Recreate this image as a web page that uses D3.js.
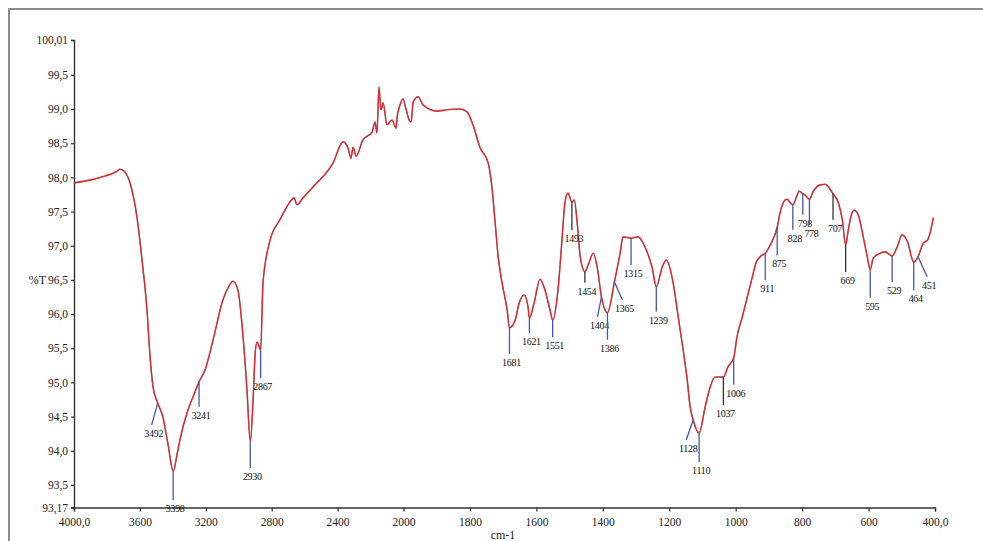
<!DOCTYPE html>
<html><head><meta charset="utf-8">
<script src="https://cdn.jsdelivr.net/npm/d3@7"></script>
<style>body{margin:0;background:#fff}svg{display:block}</style>
</head><body><svg id="c" width="983" height="541"></svg>
<script>
// ---- data ----
const wavenumber = [4000,3903,3812,3763,3739,3721,3696,3660,3618,3587,3557,3539,3520,3492,3460,3429,3398,3375,3357,3308,3272,3241,3205,3156,3096,3059,3035,3005,2974,2950,2930,2913,2901,2889,2877,2867,2853,2810,2750,2689,2665,2646,2610,2549,2428,2367,2337,2319,2306,2288,2246,2191,2173,2161,2149,2137,2124,2100,2070,2045,2039,2021,2003,1992,1983,1977,1971,1956,1941,1899,1869,1830,1809,1791,1770,1745,1733,1724,1715,1703,1688,1681,1664,1652,1637,1625,1621,1607,1589,1574,1559,1551,1535,1523,1514,1505,1493,1486,1477,1468,1454,1444,1429,1417,1404,1386,1365,1348,1339,1315,1294,1273,1252,1239,1221,1209,1188,1173,1158,1146,1137,1128,1110,1092,1077,1062,1047,1037,1023,1006,996,980,965,950,938,926,911,896,875,866,851,845,836,828,815,809,798,791,778,767,746,730,715,707,691,679,669,661,652,643,631,616,604,595,586,565,550,529,514,499,483,464,451,435,423,414,405];
const transmittance = [97.92,97.96,98.02,98.06,98.09,98.12,98.09,97.92,97.42,96.79,96.06,95.40,94.93,94.70,94.49,94.09,93.70,93.94,94.16,94.60,94.82,95.01,95.18,95.62,96.21,96.41,96.48,96.35,95.67,94.89,94.13,94.74,95.40,95.59,95.53,95.47,96.45,97.08,97.38,97.64,97.70,97.60,97.70,97.86,98.21,98.52,98.43,98.28,98.44,98.31,98.55,98.66,98.81,98.65,99.32,98.99,99.09,98.77,98.84,98.72,98.87,99.06,99.15,98.99,98.84,98.81,99.10,99.18,99.06,98.97,98.99,99.00,98.96,98.77,98.44,98.21,97.82,97.33,96.84,96.45,96.06,95.80,95.91,96.16,96.28,96.10,95.94,96.16,96.51,96.35,96.06,95.91,96.35,97.08,97.63,97.77,97.64,97.67,97.33,96.84,96.62,96.72,96.89,96.69,96.25,96.02,96.47,96.89,97.13,97.11,97.13,96.98,96.69,96.40,96.69,96.79,96.45,95.96,95.47,95.04,94.64,94.45,94.26,94.64,94.93,95.08,95.08,95.08,95.23,95.36,95.67,95.96,96.25,96.54,96.76,96.84,96.89,97.01,97.27,97.49,97.67,97.68,97.63,97.60,97.74,97.80,97.76,97.74,97.68,97.79,97.89,97.90,97.82,97.76,97.63,97.38,97.01,97.23,97.45,97.52,97.45,97.13,96.84,96.65,96.82,96.89,96.91,96.85,96.98,97.16,97.06,96.76,96.84,97.04,97.08,97.20,97.41];
const peakLabels = [3492,3398,3241,2930,2867,1681,1621,1551,1493,1454,1404,1386,1365,1315,1239,1128,1110,1037,1006,911,875,828,798,778,707,669,595,529,464,451];
const xTickValues = [4000,3600,3200,2800,2400,2000,1800,1600,1400,1200,1000,800,600,400];
const yTickValues = [100.01,99.5,99.0,98.5,98.0,97.5,97.0,96.5,96.0,95.5,95.0,94.5,94.0,93.5,93.17];
const xTitle = "cm-1";
const yTitle = "%T";

// ---- annotation layout (leader end offsets in px, leader colour) ----
const leaderOffsets = [[-6,22],[0,29],[0,25],[0,26],[0,28],[0,26],[0,15],[0,17],[0,28],[0,11],[-4,20],[0,27],[8,18],[0,27],[0,25],[-7,20],[0,29],[0,28],[0,27],[0,27],[0,28],[0,25],[0,21],[0,26],[0,26],[0,27],[0,28],[0,26],[0,28],[9,20]];
const leaderDark = [0,0,0,0,0,0,0,0,1,1,0,0,0,0,0,0,0,1,0,0,0,0,0,0,1,1,0,0,0,0];

const svg = d3.select("#c");
const font = "'Liberation Serif','Times New Roman',serif";

// frame
svg.append("path").attr("d","M9,541V9H983").attr("fill","none").attr("stroke","#666").attr("stroke-width",1.5);

const x = d3.scaleLinear().domain([4000,2000,400]).range([74,403.5,935]);
const y = d3.scaleLinear().domain([93.17,100.01]).range([507.5,40]);

const fmtX = d => (d===4000||d===400) ? d3.format(".1f")(d).replace(".",",") : String(d);
const fmtY = d => (d===100.01||d===93.17) ? d3.format(".2f")(d).replace(".",",") : d3.format(".1f")(d).replace(".",",");

const gy = svg.append("g").attr("transform","translate(74,0)")
  .call(d3.axisLeft(y).tickValues(yTickValues).tickFormat(fmtY).tickSize(3).tickPadding(3));
const gx = svg.append("g").attr("transform","translate(0,507.5)")
  .call(d3.axisBottom(x).tickValues(xTickValues).tickFormat(fmtX).tickSize(4).tickPadding(6));
[gx,gy].forEach(g=>{
  g.selectAll("text").attr("font-family",font).attr("font-size",11.5).attr("fill","#222");
  g.select(".domain").attr("stroke","#333").attr("stroke-width",1.4);
  g.selectAll(".tick line").attr("stroke","#333").attr("stroke-width",1.2);
});

svg.append("text").attr("x",503).attr("y",539).attr("text-anchor","middle")
  .attr("font-family",font).attr("font-size",12).attr("fill","#222").text(xTitle);
svg.append("text").attr("x",46).attr("y",284).attr("text-anchor","end")
  .attr("font-family",font).attr("font-size",12).attr("fill","#222").text(yTitle);

// spectrum
const pts = wavenumber.map((w,i)=>[w,transmittance[i]]);
const line = d3.line().x(d=>x(d[0])).y(d=>y(d[1])).curve(d3.curveMonotoneX);
svg.append("path").datum(pts).attr("d",line).attr("fill","none")
  .attr("stroke","#5a1a1a").attr("stroke-width",1.6).attr("stroke-linejoin","round").attr("opacity",0.6);
svg.append("path").datum(pts).attr("d",line).attr("fill","none")
  .attr("stroke","#e8202a").attr("stroke-width",1.1).attr("stroke-linejoin","round");

// peak annotations
function tAt(w){
  for(let i=0;i<wavenumber.length-1;i++){
    const a=wavenumber[i], b=wavenumber[i+1];
    if((w<=a&&w>=b)){ const f=(a-w)/(a-b); return transmittance[i]+f*(transmittance[i+1]-transmittance[i]); }
  }
  return transmittance[transmittance.length-1];
}
const ann = svg.append("g");
peakLabels.forEach((p,i)=>{
  const px=x(p), py=y(tAt(p));
  const [dx,dy]=leaderOffsets[i];
  ann.append("line").attr("x1",px).attr("y1",py).attr("x2",px+dx).attr("y2",py+dy)
    .attr("stroke",leaderDark[i]?"#333":"#4656a8").attr("stroke-width",1.3);
  ann.append("text").attr("x",px+dx+2).attr("y",py+dy+12).attr("text-anchor","middle")
    .attr("font-family",font).attr("font-size",10).attr("letter-spacing","-0.3px").attr("fill","#111").text(p);
});
</script></body></html>
